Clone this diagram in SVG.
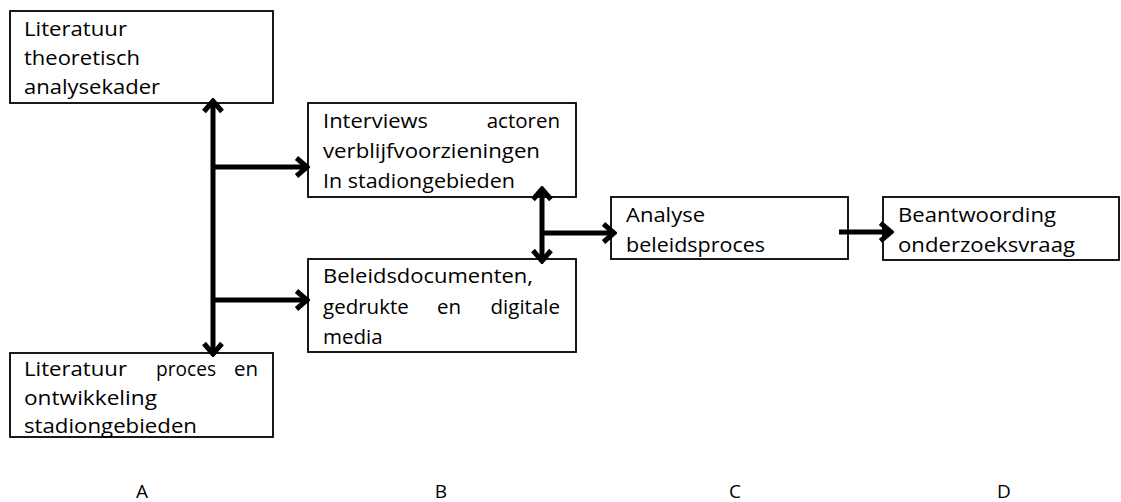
<svg xmlns="http://www.w3.org/2000/svg" width="1121" height="502" viewBox="0 0 1121 502">
<style>
.box{fill:#fff;stroke:#000;stroke-width:1.8}
.t{font-family:"Open Sans","Noto Sans",sans-serif;font-size:20.5px;fill:#000}
.c{stroke:#000;stroke-width:5;fill:none}
.lbl{font-family:"Open Sans","Noto Sans",sans-serif;font-size:19px;fill:#000;text-anchor:middle}
</style>
<defs>
<marker id="ah" viewBox="0 0 16 22" refX="13" refY="11" markerWidth="16" markerHeight="22" markerUnits="userSpaceOnUse" orient="auto-start-reverse">
<path d="M2.5,2 L13,11 L2.5,20" fill="none" stroke="#000" stroke-width="5"/>
</marker>
</defs>
<rect width="1121" height="502" fill="#fff"/>
<g id="n-lit-theor">
<rect class="box" x="10" y="11" width="263" height="92"/>
<text class="t" x="24" y="36" textLength="103" lengthAdjust="spacingAndGlyphs">Literatuur</text>
<text class="t" x="24" y="65" textLength="116" lengthAdjust="spacingAndGlyphs">theoretisch</text>
<text class="t" x="24" y="94" textLength="136" lengthAdjust="spacingAndGlyphs">analysekader</text>
</g>
<g id="n-interviews">
<rect class="box" x="308" y="103" width="268" height="94"/>
<text class="t" x="323" y="128" textLength="105" lengthAdjust="spacingAndGlyphs">Interviews</text>
<text class="t" x="560" y="128" text-anchor="end">actoren</text>
<text class="t" x="323" y="158" textLength="217" lengthAdjust="spacingAndGlyphs">verblijfvoorzieningen</text>
<text class="t" x="323" y="188" textLength="192" lengthAdjust="spacingAndGlyphs">In stadiongebieden</text>
</g>
<g id="n-beleid">
<rect class="box" x="308" y="259" width="268" height="93"/>
<text class="t" x="323" y="283" textLength="210" lengthAdjust="spacingAndGlyphs">Beleidsdocumenten,</text>
<text class="t" x="323" y="314">gedrukte</text>
<text class="t" x="449" y="314" text-anchor="middle">en</text>
<text class="t" x="560" y="314" text-anchor="end">digitale</text>
<text class="t" x="323" y="344">media</text>
</g>
<g id="n-lit-proces">
<rect class="box" x="10" y="353" width="263" height="84"/>
<text class="t" x="24" y="376" textLength="103" lengthAdjust="spacingAndGlyphs">Literatuur</text>
<text class="t" x="156" y="376" textLength="60" lengthAdjust="spacingAndGlyphs">proces</text>
<text class="t" x="258" y="376" text-anchor="end">en</text>
<text class="t" x="24" y="405" textLength="133" lengthAdjust="spacingAndGlyphs">ontwikkeling</text>
<text class="t" x="24" y="433" textLength="173" lengthAdjust="spacingAndGlyphs">stadiongebieden</text>
</g>
<g id="n-analyse">
<rect class="box" x="611" y="197" width="237" height="62"/>
<text class="t" x="626" y="222" textLength="79" lengthAdjust="spacingAndGlyphs">Analyse</text>
<text class="t" x="626" y="252" textLength="139" lengthAdjust="spacingAndGlyphs">beleidsproces</text>
</g>
<g id="n-beantwoording">
<rect class="box" x="883" y="197" width="236" height="63"/>
<text class="t" x="898" y="222" textLength="158" lengthAdjust="spacingAndGlyphs">Beantwoording</text>
<text class="t" x="898" y="252" textLength="177" lengthAdjust="spacingAndGlyphs">onderzoeksvraag</text>
</g>
<g id="connectors">
<line class="c" x1="213" y1="101" x2="213" y2="354" marker-start="url(#ah)" marker-end="url(#ah)"/>
<line class="c" x1="213" y1="167" x2="307" y2="167" marker-end="url(#ah)"/>
<line class="c" x1="213" y1="300" x2="307" y2="300" marker-end="url(#ah)"/>
<line class="c" x1="542" y1="189" x2="542" y2="261" marker-start="url(#ah)" marker-end="url(#ah)"/>
<line class="c" x1="542" y1="233" x2="614" y2="233" marker-end="url(#ah)"/>
<line class="c" x1="839" y1="232" x2="891" y2="232" marker-end="url(#ah)"/>
</g>
<g id="labels">
<text class="lbl" x="142" y="498">A</text>
<text class="lbl" x="441" y="498">B</text>
<text class="lbl" x="735" y="498">C</text>
<text class="lbl" x="1004" y="498">D</text>
</g>
</svg>
